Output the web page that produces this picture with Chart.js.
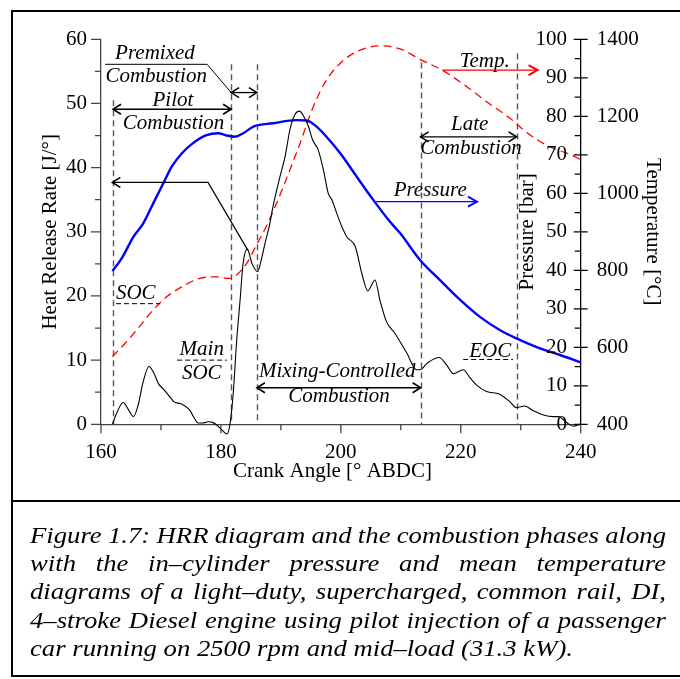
<!DOCTYPE html>
<html>
<head>
<meta charset="utf-8">
<script src="https://cdn.jsdelivr.net/npm/chart.js@4.4.1/dist/chart.umd.min.js"></script>
<style>
html,body{margin:0;padding:0;background:#fff;}
body{width:680px;height:679px;position:relative;overflow:hidden;}
#c{position:absolute;left:0;top:0;}
#frame{position:absolute;left:11px;top:10px;width:690px;height:667px;border:2px solid #000;box-sizing:border-box;pointer-events:none;}
#sep{position:absolute;left:11px;top:500px;width:690px;height:2px;background:#000;}
#caption{position:absolute;left:30px;top:520.8px;font:italic 24px "Liberation Serif","Times New Roman",serif;line-height:28.3px;color:#000;transform-origin:0 0;}
#caption div{white-space:nowrap;}
</style>
</head>
<body>
<canvas id="c" width="680" height="500"></canvas>
<div id="frame"></div>
<div id="sep"></div>
<div id="caption"></div>
<script>
// ---------------- data ----------------
const crankAngleHRR = [161.9,162.5,163.7,164.5,165.4,166.2,167.0,168.0,168.8,169.6,170.5,171.2,172.2,172.9,173.6,174.8,175.6,176.2,177.0,177.9,178.6,179.3,180.2,181.0,181.5,182.05,182.6,183.2,183.7,184.4,185.2,186.1,186.7,187.35,188.1,188.7,189.85,190.7,191.5,192.3,193.1,193.8,194.6,195.3,196.25,197.1,197.9,198.5,199.5,200.3,201.0,202.4,203.5,204.5,205.7,206.5,207.6,209.0,211.0,212.65,213.2,214.5,216.4,217.6,218.75,220.4,221.5,222.65,224.3,226.5,228.2,229.3,230.7,232.1,233.8,235.4,236.3,237.7,238.8,240.0];
const heatReleaseRate = [0.0,1.5,3.4,2.4,1.2,3.0,6.5,9.0,8.0,6.3,5.4,4.6,3.5,3.3,3.1,2.2,0.9,0.2,0.2,0.4,0.3,-0.1,-0.9,-1.5,0.0,4.8,12.7,19.4,25.1,27.3,25.0,23.8,25.5,28.2,31.0,34.0,38.6,41.7,45.9,48.2,48.8,48.0,46.4,44.3,42.7,39.6,36.0,35.0,32.4,30.5,29.2,27.7,23.5,20.8,22.5,19.4,16.0,14.2,11.1,8.5,8.5,9.6,10.4,9.3,7.9,8.5,7.3,6.1,5.1,4.7,3.5,2.6,2.85,2.1,1.45,1.2,1.2,0.25,-0.3,0.1];

const crankAnglePressure = [161.9,163.45,165.4,167.05,169.0,170.4,171.8,173.5,175.4,177.6,179.55,180.95,182.35,183.7,185.5,188.7,192.6,194.3,195.95,197.6,199.9,202.65,205.4,208.2,209.9,213.2,216.5,219.9,223.2,226.5,229.3,233.2,236.55,240.0];
const cylinderPressure = [39.8,43.1,48.7,52.2,58.3,62.6,66.9,70.4,73.1,75.1,75.6,75.0,74.7,75.6,77.4,78.2,79.0,78.9,77.3,74.7,70.4,64.3,58.3,52.6,49.6,42.7,37.5,32.3,27.9,24.5,22.3,19.7,18.0,16.1];

const crankAngleTemp = [161.9,164.0,165.95,168.7,170.95,173.45,176.5,179.3,181.25,182.6,184.3,186.0,187.6,189.3,190.4,193.2,195.4,197.6,199.9,202.65,206.5,209.9,213.2,217.1,221.0,224.3,228.2,231.0,234.3,238.5,240.0];
const meanTemperature = [576,610,645,697,731,757,779,783,779,788,818,868,915,975,1017,1130,1225,1294,1338,1368,1383,1375,1348,1318,1277,1238,1195,1158,1125,1099,1088];

// crank angles separating the combustion phases (SOC, main SOC, end of premixed, start of late, EOC)
const phaseBoundaries = [162, 181.7, 186, 213.3, 229.3];

const xAxisTitle = 'Crank Angle [\u00b0 ABDC]';
const captionLines = [
  "Figure 1.7: HRR diagram and the combustion phases along",
  "with the in\u2013cylinder pressure and mean temperature",
  "diagrams of a light\u2013duty, supercharged, common rail, DI,",
  "4\u2013stroke Diesel engine using pilot injection of a passenger",
  "car running on 2500 rpm and mid\u2013load (31.3 kW)."
];

// ---------------- annotation layout (data units: crank angle / HRR) ----------------
const phaseLineTops = [50.5, 56.1, 56.1, 56.4, 57.8];
const labelSpecs = [
  {t:'Premixed', x:169.0, y:57.0},
  {t:'Combustion', x:169.2, y:53.3},
  {t:'Pilot', x:172.0, y:49.6},
  {t:'Combustion', x:172.1, y:46.0},
  {t:'SOC', x:165.8, y:19.5},
  {t:'Main', x:176.8, y:10.8},
  {t:'SOC', x:176.8, y:7.1},
  {t:'Mixing-Controlled', x:199.4, y:7.4},
  {t:'Combustion', x:199.7, y:3.5},
  {t:'Late', x:221.5, y:45.9},
  {t:'Combustion', x:221.7, y:42.1},
  {t:'Temp.', x:224.0, y:55.7},
  {t:'Pressure', x:214.9, y:35.6},
  {t:'EOC', x:224.9, y:10.5}
];
const doubleArrows = [
  {x1:181.7, x2:186.0, y:51.7},
  {x1:162.0, x2:181.7, y:49.1},
  {x1:186.0, x2:213.3, y:5.7},
  {x1:213.3, x2:229.3, y:44.8}
];
const dashedUnderlines = [
  {x1:162.5, x2:169.8, y:18.8},
  {x1:172.7, x2:181.0, y:10.0},
  {x1:220.4, x2:228.7, y:10.1}
];

const SERIF = '"Liberation Serif","Times New Roman",serif';
const tickFont = {family: SERIF, size: 21};
Chart.defaults.color = '#000';

function headAt(ctx, x, y, dir, len, half) {
  ctx.beginPath();
  ctx.moveTo(x - dir * len, y - half);
  ctx.lineTo(x, y);
  ctx.lineTo(x - dir * len, y + half);
  ctx.stroke();
}

const annotationPlugin = {
  id: 'annotations',
  beforeDatasetsDraw(chart) {
    const {ctx, scales: {x, y}} = chart;
    ctx.save();
    ctx.strokeStyle = '#555';
    ctx.lineWidth = 1.4;
    ctx.setLineDash([6, 4]);
    phaseBoundaries.forEach((a, i) => {
      const px = Math.round(x.getPixelForValue(a)) + 0.5;
      ctx.beginPath();
      ctx.moveTo(px, y.getPixelForValue(phaseLineTops[i]));
      ctx.lineTo(px, y.getPixelForValue(0));
      ctx.stroke();
    });
    ctx.restore();
  },
  afterDatasetsDraw(chart) {
    const {ctx, scales: {x, y}} = chart;
    const X = v => x.getPixelForValue(v), Y = v => y.getPixelForValue(v);
    ctx.save();
    ctx.fillStyle = '#000';
    ctx.font = 'italic 21px ' + SERIF;
    ctx.textAlign = 'center';
    ctx.textBaseline = 'alphabetic';
    labelSpecs.forEach(l => ctx.fillText(l.t, X(l.x), Y(l.y)));
    ctx.strokeStyle = '#000';
    ctx.lineWidth = 1.3;
    doubleArrows.forEach(a => {
      const x1 = X(a.x1), x2 = X(a.x2), yy = Y(a.y);
      ctx.beginPath(); ctx.moveTo(x1, yy); ctx.lineTo(x2, yy); ctx.stroke();
      ctx.lineWidth = 1.6;
      headAt(ctx, x1, yy, -1, 8, 5);
      headAt(ctx, x2, yy, 1, 8, 5);
      ctx.lineWidth = 1.3;
    });
    ctx.lineWidth = 1;
    ctx.beginPath();
    ctx.moveTo(X(160.7), Y(56.1));
    ctx.lineTo(X(177.7), Y(56.1));
    ctx.lineTo(X(181.7), Y(51.7));
    ctx.stroke();
    ctx.lineWidth = 1.2;
    ctx.beginPath();
    ctx.moveTo(X(184.5), Y(27.1));
    ctx.lineTo(X(177.85), Y(37.7));
    ctx.lineTo(X(161.9), Y(37.7));
    ctx.stroke();
    ctx.lineWidth = 1.6;
    headAt(ctx, X(161.9), Y(37.7), -1, 8, 5);
    ctx.lineWidth = 1;
    ctx.setLineDash([5, 3]);
    dashedUnderlines.forEach(d => {
      ctx.beginPath(); ctx.moveTo(X(d.x1), Y(d.y)); ctx.lineTo(X(d.x2), Y(d.y)); ctx.stroke();
    });
    ctx.setLineDash([]);
    ctx.strokeStyle = '#ff0000';
    ctx.lineWidth = 1.3;
    ctx.beginPath(); ctx.moveTo(X(216.9), Y(55.2)); ctx.lineTo(X(232.8), Y(55.2)); ctx.stroke();
    ctx.lineWidth = 2;
    headAt(ctx, X(232.8), Y(55.2), 1, 9, 5);
    ctx.strokeStyle = '#0000ff';
    ctx.lineWidth = 1.3;
    ctx.beginPath(); ctx.moveTo(X(205.9), Y(34.7)); ctx.lineTo(X(222.7), Y(34.7)); ctx.stroke();
    ctx.lineWidth = 2;
    headAt(ctx, X(222.7), Y(34.7), 1, 9, 5);
    ctx.restore();
  },
  afterDraw(chart) {
    const {ctx, chartArea: ca, scales: {x, y, yP}} = chart;
    ctx.save();
    ctx.strokeStyle = '#444';
    ctx.lineWidth = 1.3;
    ctx.beginPath();
    for (let v = 160; v <= 240; v += 10) {
      const px = x.getPixelForValue(v), len = v % 20 === 0 ? 9 : 6;
      ctx.moveTo(px, ca.bottom); ctx.lineTo(px, ca.bottom + len);
    }
    for (let v = 0; v <= 60; v += 5) {
      const py = y.getPixelForValue(v), len = v % 10 === 0 ? 10 : 6;
      ctx.moveTo(ca.left - len, py); ctx.lineTo(ca.left, py);
    }
    ctx.stroke();
    ctx.strokeStyle = '#000';
    ctx.beginPath();
    for (let v = 0; v <= 100; v += 5) {
      const py = yP.getPixelForValue(v);
      if (v % 10 === 0) { ctx.moveTo(ca.right - 7, py); ctx.lineTo(ca.right + 7, py); }
      else { ctx.moveTo(ca.right - 6, py); ctx.lineTo(ca.right, py); }
    }
    ctx.stroke();
    ctx.fillStyle = '#000';
    ctx.font = '21px ' + SERIF;
    ctx.textAlign = 'center';
    ctx.textBaseline = 'middle';
    // x-axis title (slightly left of the axis centre, as in the reference)
    ctx.fillText(xAxisTitle, x.getPixelForValue(198.6), ca.bottom + 46.7);
    ctx.textAlign = 'right';
    for (let v = 0; v <= 100; v += 10) ctx.fillText(String(v), ca.right - 13.7, yP.getPixelForValue(v));
    ctx.translate(ca.right - 53, (ca.top + ca.bottom) / 2);
    ctx.rotate(-Math.PI / 2);
    ctx.textAlign = 'center';
    ctx.fillText('Pressure [bar]', 0, 0);
    ctx.restore();
  }
};

const pts = (xs, ys) => xs.map((v, i) => ({x: v, y: ys[i]}));
const plain = v => String(v);

new Chart(document.getElementById('c'), {
  type: 'line',
  data: {
    datasets: [
      {label: 'Heat Release Rate', data: pts(crankAngleHRR, heatReleaseRate), yAxisID: 'y',
       borderColor: '#000', borderWidth: 1.1, pointRadius: 0, cubicInterpolationMode: 'monotone', clip: false},
      {label: 'Pressure', data: pts(crankAnglePressure, cylinderPressure), yAxisID: 'yP',
       borderColor: '#0000ff', borderWidth: 2.4, pointRadius: 0, cubicInterpolationMode: 'monotone'},
      {label: 'Temperature', data: pts(crankAngleTemp, meanTemperature), yAxisID: 'yT',
       borderColor: '#ff0000', borderWidth: 1.3, borderDash: [8, 5], pointRadius: 0, cubicInterpolationMode: 'monotone'}
    ]
  },
  options: {
    responsive: false,
    devicePixelRatio: 1,
    animation: false,
    layout: {padding: {left: 33.4, right: 10.4, top: 39.3, bottom: 12.4}},
    plugins: {legend: {display: false}, tooltip: {enabled: false}},
    scales: {
      x: {
        type: 'linear', min: 160, max: 240,
        ticks: {stepSize: 20, padding: 16, font: tickFont, color: '#000', maxRotation: 0, autoSkip: false, callback: plain},
        grid: {display: false, drawTicks: false, tickLength: 0},
        border: {display: true, color: '#444', width: 1.3},
        title: {display: false, text: xAxisTitle},
        afterFit(s) { s.height = 63.3; s.paddingLeft = 0; s.paddingRight = 0; }
      },
      y: {
        position: 'left', min: 0, max: 60,
        ticks: {stepSize: 10, padding: 14, font: tickFont, color: '#000', callback: plain},
        grid: {display: false, drawTicks: false, tickLength: 0},
        border: {display: true, color: '#444', width: 1.3},
        title: {display: true, text: 'Heat Release Rate [J/\u00b0]', font: tickFont, color: '#000'},
        afterFit(s) { s.width = 67.6; s.paddingTop = 0; s.paddingBottom = 0; }
      },
      yT: {
        position: 'right', min: 400, max: 1400,
        ticks: {stepSize: 200, padding: 16, font: tickFont, color: '#000', callback: plain},
        grid: {display: false, drawTicks: false, tickLength: 0},
        border: {display: true, color: '#000', width: 1.3},
        title: {display: true, text: 'Temperature [\u00b0C]', font: tickFont, color: '#000'},
        afterFit(s) { s.width = 88.9; s.paddingTop = 0; s.paddingBottom = 0; }
      },
      yP: {
        position: 'right', min: 0, max: 100, display: false,
        afterFit(s) { s.width = 0; s.paddingTop = 0; s.paddingBottom = 0; }
      }
    }
  },
  plugins: [annotationPlugin]
});

// caption: horizontally stretched serif italic, lines 1-4 justified to the box width
const cap = document.getElementById('caption');
const mctx = document.createElement('canvas').getContext('2d');
mctx.font = 'italic 24px ' + SERIF;
const lastWidth = mctx.measureText(captionLines[captionLines.length - 1]).width;
const sx = 543 / lastWidth;
const innerWidth = 636 / sx;
captionLines.forEach((t, i) => {
  const d = document.createElement('div');
  d.textContent = t;
  if (i < captionLines.length - 1) {
    const w = mctx.measureText(t).width;
    const gaps = (t.match(/ /g) || []).length;
    d.style.wordSpacing = ((innerWidth - w) / gaps) + 'px';
  }
  cap.appendChild(d);
});
cap.style.transform = 'scaleX(' + sx + ')';
</script>
</body>
</html>
